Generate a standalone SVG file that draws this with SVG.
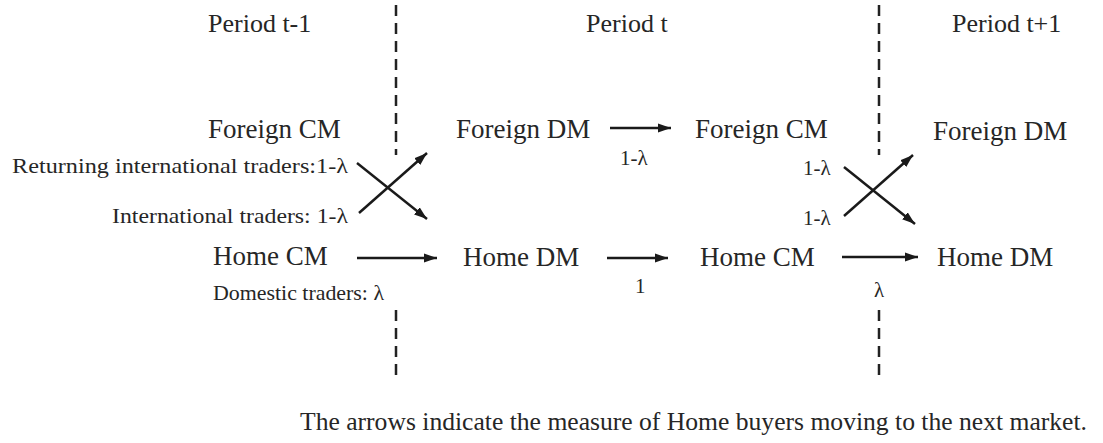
<svg xmlns="http://www.w3.org/2000/svg" width="1103" height="443" viewBox="0 0 1103 443">
<style>
text{font-family:"Liberation Serif","Times New Roman",serif;fill:#262626}
.node{font-size:27px}
.per{font-size:26px}
.lbl{font-size:21px}
.cap{font-size:26px}
.dash{stroke:#222;stroke-width:2.5;stroke-dasharray:11 7;fill:none}
.arr{stroke:#1a1a1a;stroke-width:2.5;fill:none;marker-end:url(#ah)}
</style>
<defs>
<marker id="ah" markerUnits="userSpaceOnUse" markerWidth="14" markerHeight="10" refX="13" refY="5" orient="auto">
<path d="M0,0.5 L13,5 L0,9.5 z" fill="#1a1a1a"/>
</marker>
</defs>
<rect width="1103" height="443" fill="#fff"/>
<g id="periods">
<text class="per" x="208" y="32">Period t-1</text>
<text class="per" x="586" y="32">Period t</text>
<text class="per" x="952" y="32">Period t+1</text>
</g>
<g id="dividers">
<line class="dash" x1="396" y1="5" x2="396" y2="155"/>
<line class="dash" x1="396" y1="310" x2="396" y2="380"/>
<line class="dash" x1="879" y1="5" x2="879" y2="155"/>
<line class="dash" x1="879" y1="310" x2="879" y2="380"/>
</g>
<g id="foreign-cm-t-1"><text class="node" x="208" y="138">Foreign CM</text></g>
<g id="home-cm-t-1"><text class="node" x="213" y="265">Home CM</text></g>
<g id="foreign-dm-t"><text class="node" x="456" y="138">Foreign DM</text></g>
<g id="home-dm-t"><text class="node" x="463" y="266">Home DM</text></g>
<g id="foreign-cm-t"><text class="node" x="695" y="138">Foreign CM</text></g>
<g id="home-cm-t"><text class="node" x="700" y="266">Home CM</text></g>
<g id="foreign-dm-t1"><text class="node" x="933" y="140">Foreign DM</text></g>
<g id="home-dm-t1"><text class="node" x="937" y="266">Home DM</text></g>
<g id="connectors">
<line class="arr" x1="357" y1="163" x2="427" y2="219"/>
<line class="arr" x1="359" y1="213" x2="427" y2="153"/>
<line class="arr" x1="357" y1="258" x2="437" y2="258"/>
<line class="arr" x1="610" y1="128" x2="671" y2="128"/>
<line class="arr" x1="607" y1="258" x2="668" y2="258"/>
<line class="arr" x1="844" y1="167" x2="915" y2="224"/>
<line class="arr" x1="844" y1="216" x2="913" y2="155"/>
<line class="arr" x1="842" y1="257" x2="918" y2="257"/>
</g>
<g id="labels">
<text class="lbl" x="12" y="173" textLength="336" lengthAdjust="spacingAndGlyphs">Returning international traders:1-λ</text>
<text class="lbl" x="112" y="223" textLength="236" lengthAdjust="spacingAndGlyphs">International traders: 1-λ</text>
<text class="lbl" x="213" y="300" textLength="171" lengthAdjust="spacingAndGlyphs">Domestic traders: λ</text>
<text class="lbl" x="620" y="165">1-λ</text>
<text class="lbl" x="635" y="293">1</text>
<text class="lbl" x="803" y="175">1-λ</text>
<text class="lbl" x="803" y="225">1-λ</text>
<text class="lbl" x="874" y="297">λ</text>
</g>
<text class="cap" x="300" y="430" textLength="787" lengthAdjust="spacingAndGlyphs">The arrows indicate the measure of Home buyers moving to the next market.</text>
</svg>
